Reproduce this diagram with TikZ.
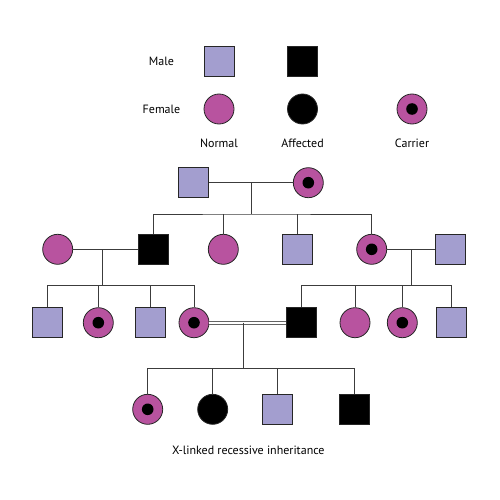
\documentclass[tikz,border=0pt]{standalone}
\usepackage{fontspec}
\setmainfont{PT Sans}
\usepackage{tikz}
\usetikzlibrary{calc}
\usepackage{xcolor}
\definecolor{pedLilac}{RGB}{163,158,207}
\definecolor{pedPink}{RGB}{184,83,159}
\definecolor{pedLine}{RGB}{60,60,60}

\begin{document}
\begin{tikzpicture}[
    x=1pt, y=-1pt,
    male/.style={rectangle, draw=black!85, line width=0.8pt, fill=pedLilac, minimum size=30pt, inner sep=0pt},
    female/.style={circle, draw=black!85, line width=0.8pt, fill=pedPink, minimum size=30pt, inner sep=0pt},
    affmale/.style={male, fill=black},
    afffemale/.style={female, fill=black},
    carrier/.style={female, path picture={\fill[black] (path picture bounding box.center) circle (5.8pt);}},
    label/.style={font=\fontsize{12}{14}\selectfont, inner sep=0pt},
    link/.style={draw=pedLine, line width=0.8pt}
]
\useasboundingbox (0,0) rectangle (500,500);

% Legend
\node[label] (lmale)   at (161.5,61)  {Male};
\node[label] (lfemale) at (161.5,109) {Female};
\node[male]      (kmale)    at (219,61)  {};
\node[affmale]   (kaffm)    at (302.5,61) {};
\node[female]    (kfemale)  at (219,109) {};
\node[afffemale] (kafff)    at (302.5,109) {};
\node[carrier]   (kcarrier) at (412,109) {};
\node[label] (lnormal)   at (219,143)   {Normal};
\node[label] (laffected) at (302.5,143) {Affected};
\node[label] (lcarrier)  at (412,143)   {Carrier};

% Generation I
\node[male]    (gen1m) at (193.3,182.7) {};
\node[carrier] (gen1f) at (308.3,182.7) {};

% Generation II
\node[female]  (gen2a) at (57.7,249.3)  {};
\node[affmale] (gen2b) at (153.3,249.3) {};
\node[female]  (gen2c) at (223.3,249.3) {};
\node[male]    (gen2d) at (297.7,249.3) {};
\node[carrier] (gen2e) at (371.7,249.3) {};
\node[male]    (gen2f) at (450.7,249.3) {};

% Generation III
\node[male]    (gen3a) at (47.7,322.7)  {};
\node[carrier] (gen3b) at (98.3,322.7)  {};
\node[male]    (gen3c) at (150,322.7)   {};
\node[carrier] (gen3d) at (194,322.7)   {};
\node[affmale] (gen3e) at (301,322.7)   {};
\node[female]  (gen3f) at (355,322.7)   {};
\node[carrier] (gen3g) at (402.3,322.7) {};
\node[male]    (gen3h) at (451.7,322.7) {};

% Generation IV
\node[carrier]   (gen4a) at (147.7,409.3) {};
\node[afffemale] (gen4b) at (212.7,409.3) {};
\node[male]      (gen4c) at (277.3,409.3) {};
\node[affmale]   (gen4d) at (354.3,409.3) {};

% Caption
\node[label] (caption) at (248.3,450) {X-linked recessive inheritance};

% Couples and sibship bars
\coordinate (mate1) at (251,182.7);
\coordinate (sib1)  at (251,214);
\coordinate (mate2) at (102.7,249.3);
\coordinate (sib2)  at (102.7,285.7);
\coordinate (mate3) at (411.7,249.3);
\coordinate (sib3)  at (411.7,285.7);
\coordinate (mate4) at (243.3,322.7);
\coordinate (sib4)  at (243.3,368.3);

% Generation I family
\draw[link] (gen1m) -- (gen1f);
\draw[link] (mate1) -- (sib1);
\draw[link] (gen2b) |- (sib1) -| (gen2e);
\draw[link] (gen2c) -- (gen2c |- sib1);
\draw[link] (gen2d) -- (gen2d |- sib1);

% Left family
\draw[link] (gen2a) -- (gen2b);
\draw[link] (mate2) -- (sib2);
\draw[link] (gen3a) |- (sib2) -| (gen3d);
\draw[link] (gen3b) -- (gen3b |- sib2);
\draw[link] (gen3c) -- (gen3c |- sib2);

% Right family
\draw[link] (gen2e) -- (gen2f);
\draw[link] (mate3) -- (sib3);
\draw[link] (gen3e) |- (sib3) -| (gen3h);
\draw[link] (gen3f) -- (gen3f |- sib3);
\draw[link] (gen3g) -- (gen3g |- sib3);

% Consanguineous couple
\draw[draw=pedLine!80, line width=0.8pt, double=white, double distance=2.2pt] (gen3d) -- (gen3e);
\draw[link] (mate4) -- (sib4);
\draw[link] (gen4a) |- (sib4) -| (gen4d);
\draw[link] (gen4b) -- (gen4b |- sib4);
\draw[link] (gen4c) -- (gen4c |- sib4);

\end{tikzpicture}
\end{document}
